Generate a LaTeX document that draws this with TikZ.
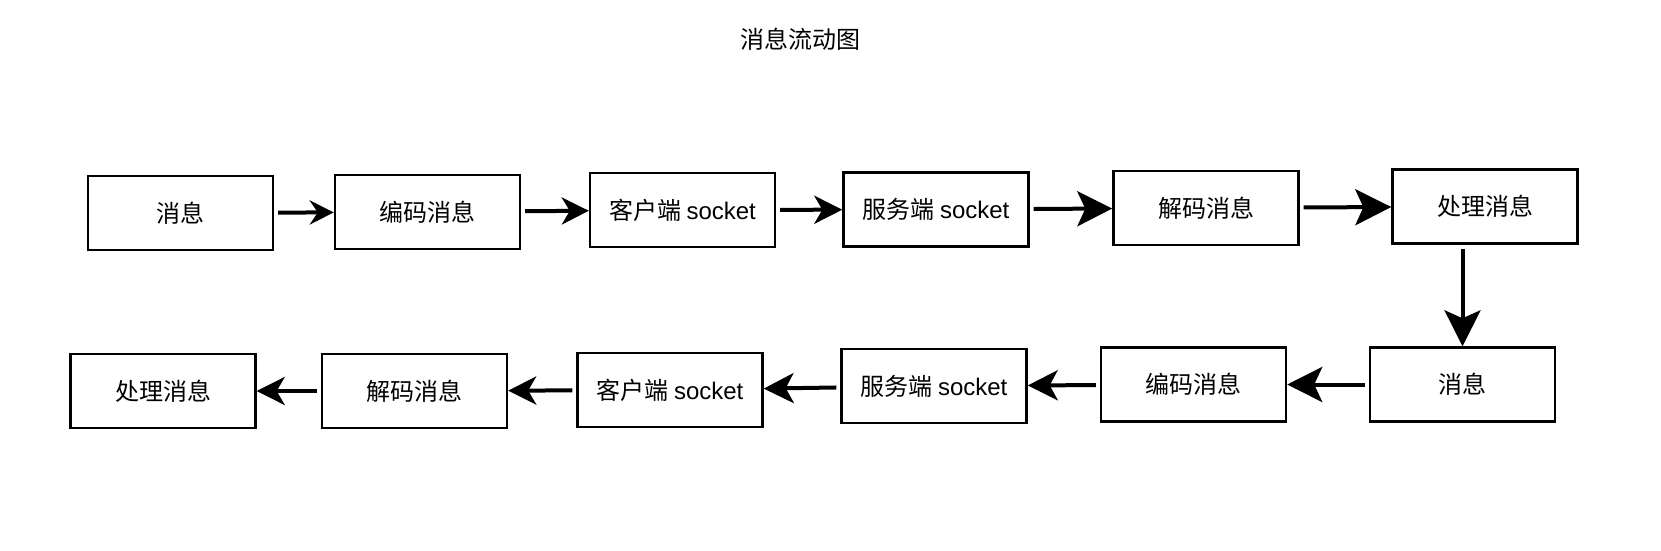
\documentclass[tikz,border=0pt]{standalone}
\usepackage{fontspec}
\setmainfont{Noto Sans CJK SC}
\newfontfamily\latinfont{Liberation Sans}
\usetikzlibrary{arrows.meta}
\newcommand{\sock}{{\latinfont socket}}
\begin{document}
\begin{tikzpicture}[x=1pt, y=-1pt,
    box/.style={rectangle, draw, line width=2.4pt, minimum width=185pt, minimum height=74pt, inner sep=0pt, font=\fontsize{24}{28}\selectfont},
    flow/.style={line width=4pt, -{Stealth[length=#1, width=#1, inset=8pt]}, shorten <=4pt},
    flow/.default=26pt]
    \useasboundingbox (0,0) rectangle (1661,550);

    % --- title ---
    \node[font=\fontsize{24}{28}\selectfont] (title) at (800,39) {消息流动图};

    % --- top row: sending side ---
    \node[box] (msg1) at (180.5,213) {消息};
    \node[box] (enc1) at (427.5,212) {编码消息};
    \node[box] (cli1) at (682.5,210) {客户端 \sock};
    \node[box] (srv1) at (936,209.5) {服务端 \sock};
    \node[box] (dec1) at (1206,208) {解码消息};
    \node[box] (proc1) at (1485,206.5) {处理消息};
    \draw[flow=24pt] (msg1) -- (enc1);
    \draw[flow=27pt] (enc1) -- (cli1);
    \draw[flow=28pt] (cli1) -- (srv1);
    \draw[flow=35pt] (srv1) -- (dec1);
    \draw[flow=36pt] (dec1) -- (proc1);

    % --- bottom row: reply side ---
    \node[box] (msg2) at (1462.5,384.5) {消息};
    \node[box] (enc2) at (1193.5,384.5) {编码消息};
    \node[box] (srv2) at (934,386) {服务端 \sock};
    \node[box] (cli2) at (670,390) {客户端 \sock};
    \node[box] (dec2) at (414.5,391) {解码消息};
    \node[box] (proc2) at (163,391) {处理消息};
    \draw[flow=36pt] (msg2.north |- proc1.south) -- (msg2.north);
    \draw[flow=35pt] (msg2) -- (enc2);
    \draw[flow=30pt] (enc2) -- (srv2);
    \draw[flow=30pt] (srv2) -- (cli2);
    \draw[flow=28pt] (cli2) -- (dec2);
    \draw[flow=28pt] (dec2) -- (proc2);
\end{tikzpicture}
\end{document}
